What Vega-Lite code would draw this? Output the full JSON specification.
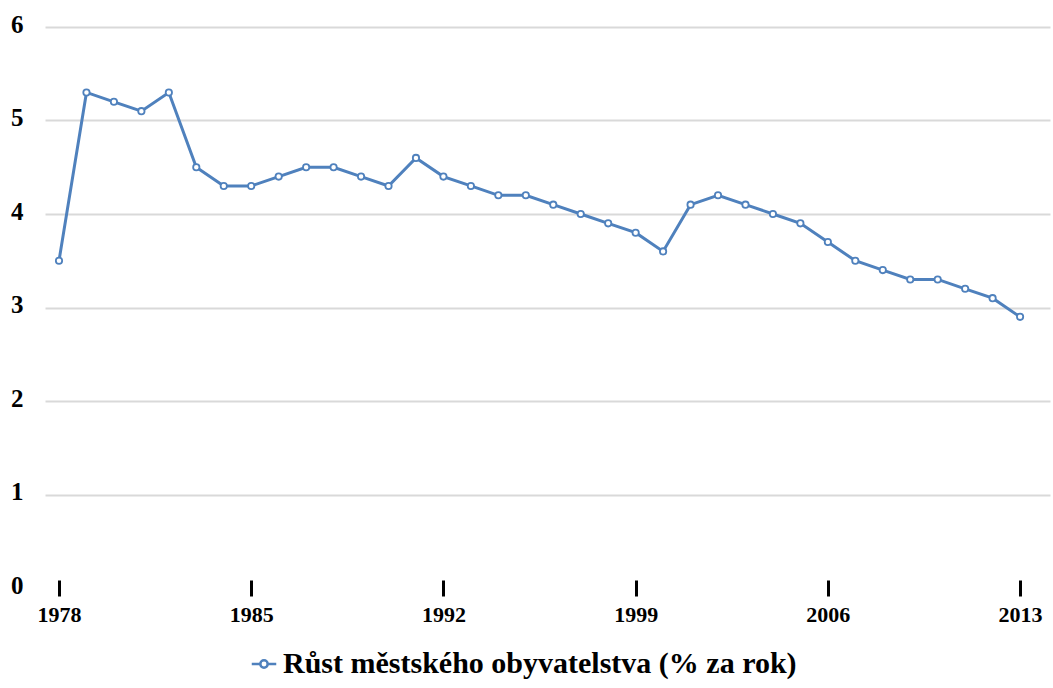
{
  "$schema": "https://vega.github.io/schema/vega-lite/v6.json",
  "width": 1005,
  "height": 561,
  "autosize": "none",
  "padding": {"left": 45, "top": 27, "right": 3, "bottom": 100},
  "background": "white",
  "config": {
    "view": {"stroke": null},
    "font": "Liberation Serif"
  },
  "data": {
    "values": [
      {"rok": 1978, "hodnota": 3.5, "serie": "Růst městského obyvatelstva (% za rok)"},
      {"rok": 1979, "hodnota": 5.3, "serie": "Růst městského obyvatelstva (% za rok)"},
      {"rok": 1980, "hodnota": 5.2, "serie": "Růst městského obyvatelstva (% za rok)"},
      {"rok": 1981, "hodnota": 5.1, "serie": "Růst městského obyvatelstva (% za rok)"},
      {"rok": 1982, "hodnota": 5.3, "serie": "Růst městského obyvatelstva (% za rok)"},
      {"rok": 1983, "hodnota": 4.5, "serie": "Růst městského obyvatelstva (% za rok)"},
      {"rok": 1984, "hodnota": 4.3, "serie": "Růst městského obyvatelstva (% za rok)"},
      {"rok": 1985, "hodnota": 4.3, "serie": "Růst městského obyvatelstva (% za rok)"},
      {"rok": 1986, "hodnota": 4.4, "serie": "Růst městského obyvatelstva (% za rok)"},
      {"rok": 1987, "hodnota": 4.5, "serie": "Růst městského obyvatelstva (% za rok)"},
      {"rok": 1988, "hodnota": 4.5, "serie": "Růst městského obyvatelstva (% za rok)"},
      {"rok": 1989, "hodnota": 4.4, "serie": "Růst městského obyvatelstva (% za rok)"},
      {"rok": 1990, "hodnota": 4.3, "serie": "Růst městského obyvatelstva (% za rok)"},
      {"rok": 1991, "hodnota": 4.6, "serie": "Růst městského obyvatelstva (% za rok)"},
      {"rok": 1992, "hodnota": 4.4, "serie": "Růst městského obyvatelstva (% za rok)"},
      {"rok": 1993, "hodnota": 4.3, "serie": "Růst městského obyvatelstva (% za rok)"},
      {"rok": 1994, "hodnota": 4.2, "serie": "Růst městského obyvatelstva (% za rok)"},
      {"rok": 1995, "hodnota": 4.2, "serie": "Růst městského obyvatelstva (% za rok)"},
      {"rok": 1996, "hodnota": 4.1, "serie": "Růst městského obyvatelstva (% za rok)"},
      {"rok": 1997, "hodnota": 4.0, "serie": "Růst městského obyvatelstva (% za rok)"},
      {"rok": 1998, "hodnota": 3.9, "serie": "Růst městského obyvatelstva (% za rok)"},
      {"rok": 1999, "hodnota": 3.8, "serie": "Růst městského obyvatelstva (% za rok)"},
      {"rok": 2000, "hodnota": 3.6, "serie": "Růst městského obyvatelstva (% za rok)"},
      {"rok": 2001, "hodnota": 4.1, "serie": "Růst městského obyvatelstva (% za rok)"},
      {"rok": 2002, "hodnota": 4.2, "serie": "Růst městského obyvatelstva (% za rok)"},
      {"rok": 2003, "hodnota": 4.1, "serie": "Růst městského obyvatelstva (% za rok)"},
      {"rok": 2004, "hodnota": 4.0, "serie": "Růst městského obyvatelstva (% za rok)"},
      {"rok": 2005, "hodnota": 3.9, "serie": "Růst městského obyvatelstva (% za rok)"},
      {"rok": 2006, "hodnota": 3.7, "serie": "Růst městského obyvatelstva (% za rok)"},
      {"rok": 2007, "hodnota": 3.5, "serie": "Růst městského obyvatelstva (% za rok)"},
      {"rok": 2008, "hodnota": 3.4, "serie": "Růst městského obyvatelstva (% za rok)"},
      {"rok": 2009, "hodnota": 3.3, "serie": "Růst městského obyvatelstva (% za rok)"},
      {"rok": 2010, "hodnota": 3.3, "serie": "Růst městského obyvatelstva (% za rok)"},
      {"rok": 2011, "hodnota": 3.2, "serie": "Růst městského obyvatelstva (% za rok)"},
      {"rok": 2012, "hodnota": 3.1, "serie": "Růst městského obyvatelstva (% za rok)"},
      {"rok": 2013, "hodnota": 2.9, "serie": "Růst městského obyvatelstva (% za rok)"}
    ]
  },
  "encoding": {
    "x": {
      "field": "rok",
      "type": "quantitative",
      "scale": {"domain": [1977.49, 2014.09], "nice": false, "zero": false},
      "axis": {
        "title": null,
        "values": [1978, 1985, 1992, 1999, 2006, 2013],
        "format": "d",
        "domain": false,
        "grid": false,
        "offset": -8,
        "tickColor": "black",
        "tickWidth": 3,
        "tickSize": 16,
        "labelFont": "Liberation Serif",
        "labelFontWeight": "bold",
        "labelFontSize": 22,
        "labelColor": "black",
        "labelPadding": 8,
        "labelFlush": false
      }
    },
    "y": {
      "field": "hodnota",
      "type": "quantitative",
      "scale": {"domain": [0, 6], "nice": false},
      "axis": {
        "title": null,
        "values": [0, 1, 2, 3, 4, 5, 6],
        "domain": false,
        "ticks": false,
        "grid": true,
        "gridColor": {"condition": {"test": "datum.value == 0", "value": "transparent"}, "value": "#d9d9d9"},
        "gridWidth": 2,
        "labelFont": "Liberation Serif",
        "labelFontWeight": "bold",
        "labelFontSize": 25,
        "labelColor": "black",
        "labelPadding": 22,
        "labelOffset": -3
      }
    },
    "color": {
      "field": "serie",
      "type": "nominal",
      "scale": {"range": ["#4f81bd"]},
      "legend": {
        "title": null,
        "orient": "none",
        "legendX": 204,
        "legendY": 622,
        "symbolType": "M-1,0L-0.3,0M0.3,0L1,0M-0.3,0A0.3,0.3 0 1,0 0.3,0A0.3,0.3 0 1,0 -0.3,0",
        "symbolSize": 600,
        "symbolStrokeWidth": 2.5,
        "symbolFillColor": "white",
        "symbolStrokeColor": "#4f81bd",
        "labelFont": "Liberation Serif",
        "labelFontWeight": "bold",
        "labelFontSize": 30,
        "labelColor": "black",
        "labelLimit": 900
      }
    }
  },
  "layer": [
    {"mark": {"type": "line", "strokeWidth": 3}},
    {"mark": {"type": "point", "filled": false, "fill": "white", "size": 40, "strokeWidth": 1.8, "opacity": 1}}
  ]
}
